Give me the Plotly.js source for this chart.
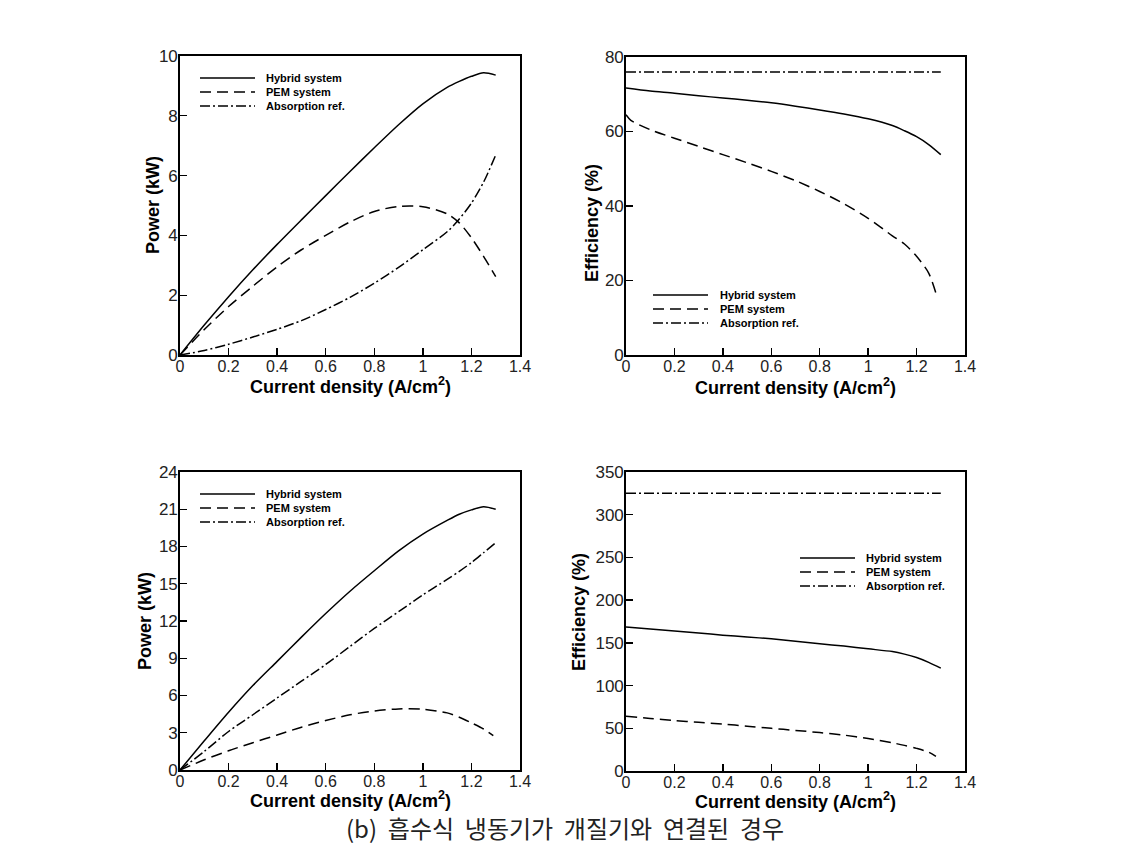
<!DOCTYPE html>
<html><head><meta charset="utf-8">
<script src="https://cdn.plot.ly/plotly-3.0.1.min.js"></script>
<style>html,body{margin:0;padding:0;background:#fff}#c{width:1132px;height:846px}</style>
</head><body><div id="c"></div>
<script>
// ---- data ----
const xStd = [0, 0.1, 0.2, 0.3, 0.4, 0.5, 0.6, 0.7, 0.8, 0.9, 1.0, 1.1, 1.15, 1.2, 1.25, 1.3];

// (top-left) Power
const p1Hybrid = [0, 1.0, 1.95, 2.85, 3.7, 4.52, 5.33, 6.14, 6.93, 7.7, 8.4, 8.95, 9.15, 9.32, 9.44, 9.36];
const p1PEM    = [0, 0.85, 1.62, 2.3, 2.95, 3.52, 4.0, 4.45, 4.8, 4.97, 4.96, 4.72, 4.42, 3.92, 3.3, 2.62];
const p1Abs    = [0, 0.15, 0.36, 0.6, 0.86, 1.15, 1.52, 1.93, 2.4, 2.93, 3.52, 4.12, 4.55, 5.08, 5.78, 6.69];

// (top-right) Efficiency
const e1Hybrid = [71.7, 70.9, 70.3, 69.6, 69.0, 68.4, 67.7, 66.8, 65.8, 64.7, 63.4, 61.6, 60.2, 58.6, 56.5, 53.8];
const xPEMe1   = [0, 0.02, 0.1, 0.2, 0.3, 0.4, 0.5, 0.6, 0.7, 0.8, 0.9, 1.0, 1.1, 1.15, 1.2, 1.25, 1.28];
const e1PEM    = [64.5, 63, 60.5, 58.2, 56, 53.8, 51.6, 49.3, 46.8, 43.9, 40.6, 36.7, 32, 29.8, 26.5, 22, 16.6];
const xAbsE    = [0, 1.3];
const e1Abs    = [76, 76];

// (bottom-left) Power
const p2Hybrid = [0, 2.35, 4.65, 6.8, 8.75, 10.7, 12.6, 14.4, 16.05, 17.65, 19.0, 20.1, 20.6, 20.95, 21.2, 21.0];
const xPEMp2   = [0, 0.1, 0.2, 0.3, 0.4, 0.5, 0.6, 0.7, 0.8, 0.9, 1.0, 1.1, 1.15, 1.2, 1.25, 1.29];
const p2PEM    = [0, 0.82, 1.55, 2.2, 2.82, 3.45, 3.98, 4.45, 4.75, 4.92, 4.9, 4.6, 4.25, 3.8, 3.3, 2.77];
const p2Abs    = [0, 1.5, 3.1, 4.45, 5.8, 7.15, 8.5, 9.95, 11.4, 12.75, 14.1, 15.35, 16.0, 16.7, 17.5, 18.3];

// (bottom-right) Efficiency
const e2Hybrid = [168.5, 166.3, 164, 161.5, 159, 156.9, 154.7, 152, 149, 146.2, 143, 139.8, 136.8, 132.8, 127.2, 120.5];
const xPEMe2   = [0, 0.1, 0.2, 0.3, 0.4, 0.5, 0.6, 0.7, 0.8, 0.9, 1.0, 1.1, 1.15, 1.2, 1.25, 1.28];
const e2PEM    = [64, 61.5, 59, 57, 55, 52.5, 50, 47.5, 45, 42, 38, 33, 30, 26.5, 22, 17];
const e2Abs    = [325, 325];

const seriesNames = ["Hybrid system", "PEM system", "Absorption ref."];
const xTitle = "Current density (A/cm<sup>2</sup>)";
const yTitles = ["Power (kW)", "Efficiency (%)", "Power (kW)", "Efficiency (%)"];
const caption = "(b)  흡수식  냉동기가  개질기와  연결된  경우";

// ---- styling ----
const W = 1132, H = 846;
const px = v => v / W, py = v => 1 - v / H;
const SOLID = "solid", DASH = "11px,6px", DASHDOT = "10px,3px,2px,3px";
const styles = [SOLID, DASH, DASHDOT];

function tr(x, y, ax, i) {
  return {x: x, y: y, xaxis: "x" + ax, yaxis: "y" + ax, type: "scatter", mode: "lines",
    name: seriesNames[i], showlegend: false,
    line: {color: "#000", width: 1.5, dash: styles[i], shape: "spline", smoothing: 0.8}};
}
const data = [
  tr(xStd, p1Hybrid, "", 0), tr(xStd, p1PEM, "", 1), tr(xStd, p1Abs, "", 2),
  tr(xStd, e1Hybrid, "2", 0), tr(xPEMe1, e1PEM, "2", 1), tr(xAbsE, e1Abs, "2", 2),
  tr(xStd, p2Hybrid, "3", 0), tr(xPEMp2, p2PEM, "3", 1), tr(xStd, p2Abs, "3", 2),
  tr(xStd, e2Hybrid, "4", 0), tr(xPEMe2, e2PEM, "4", 1), tr(xAbsE, e2Abs, "4", 2)
];

const FONT = "Arial, 'Liberation Sans', sans-serif";
function xa(x0, x1, anchor) {
  return {domain: [px(x0), px(x1)], anchor: anchor, range: [0, 1.4], tickvals: [0,0.2,0.4,0.6,0.8,1,1.2,1.4],
    ticktext: ["0","0.2","0.4","0.6","0.8","1","1.2","1.4"],
    ticks: "inside", ticklen: 7, tickwidth: 1.3, tickcolor: "#000", showline: true, linecolor: "#000", linewidth: 1.8,
    mirror: true, showgrid: false, zeroline: false, ticklabelstandoff: -4,
    tickfont: {family: FONT, size: 16, color: "#222"}};
}
function ya(y0, y1, anchor, max, dt) {
  return {domain: [py(y1), py(y0)], anchor: anchor, range: [0, max], dtick: dt,
    ticks: "inside", ticklen: 7, tickwidth: 1.3, tickcolor: "#000", showline: true, linecolor: "#000", linewidth: 1.8,
    mirror: true, showgrid: false, zeroline: false, ticklabelstandoff: -3,
    tickfont: {family: FONT, size: 17, color: "#222"}};
}

const layout = {
  width: W, height: H, margin: {l: 0, r: 0, t: 0, b: 0}, paper_bgcolor: "#fff", plot_bgcolor: "#fff",
  showlegend: false,
  xaxis:  xa(180, 520, "y"),  yaxis:  ya(56, 355, "x", 10, 2),
  xaxis2: xa(626, 965, "y2"), yaxis2: ya(57, 355, "x2", 80, 20),
  xaxis3: xa(180, 520, "y3"), yaxis3: ya(472, 770, "x3", 24, 3),
  xaxis4: xa(626, 965, "y4"), yaxis4: ya(472, 771, "x4", 350, 50),
  shapes: [], annotations: []
};

// axis titles: [xTitleCenterX, xTitleCenterY, yTitleCenterX, yTitleCenterY]
const titlePos = [[350, 385, 153, 205], [795, 386, 592, 223], [350, 799, 145, 621], [795, 800, 579, 612]];
titlePos.forEach((t, i) => {
  layout.annotations.push({xref: "paper", yref: "paper", x: px(t[0]), y: py(t[1]), xanchor: "center", yanchor: "middle",
    showarrow: false, text: xTitle, font: {family: FONT, size: 18, color: "#000", weight: "bold"}});
  layout.annotations.push({xref: "paper", yref: "paper", x: px(t[2]), y: py(t[3]), xanchor: "center", yanchor: "middle",
    showarrow: false, textangle: -90, text: yTitles[i], font: {family: FONT, size: 18, color: "#000", weight: "bold"}});
});

// manual legends: [lineX0, lineX1, textX, firstRowY]
const legends = [[200, 255, 264, 78], [653, 708, 718, 295], [200, 255, 264, 494], [800, 855, 864, 558]];
legends.forEach(L => {
  seriesNames.forEach((nm, i) => {
    const y = L[3] + i * 14;
    layout.shapes.push({type: "line", xref: "paper", yref: "paper", x0: px(L[0]), x1: px(L[1]), y0: py(y), y1: py(y),
      line: {color: "#000", width: 1.3, dash: styles[i]}});
    layout.annotations.push({xref: "paper", yref: "paper", x: px(L[2]), y: py(y), xanchor: "left", yanchor: "middle",
      showarrow: false, text: nm, font: {family: FONT, size: 11, color: "#000", weight: "bold"}});
  });
});
layout.annotations.push({xref: "paper", yref: "paper", x: px(565), y: py(827), xanchor: "center", yanchor: "middle",
  showarrow: false, text: caption, font: {family: "'Noto Sans CJK KR', sans-serif", size: 24, color: "#222"}});

Plotly.newPlot("c", data, layout, {staticPlot: true, displayModeBar: false});
</script></body></html>
